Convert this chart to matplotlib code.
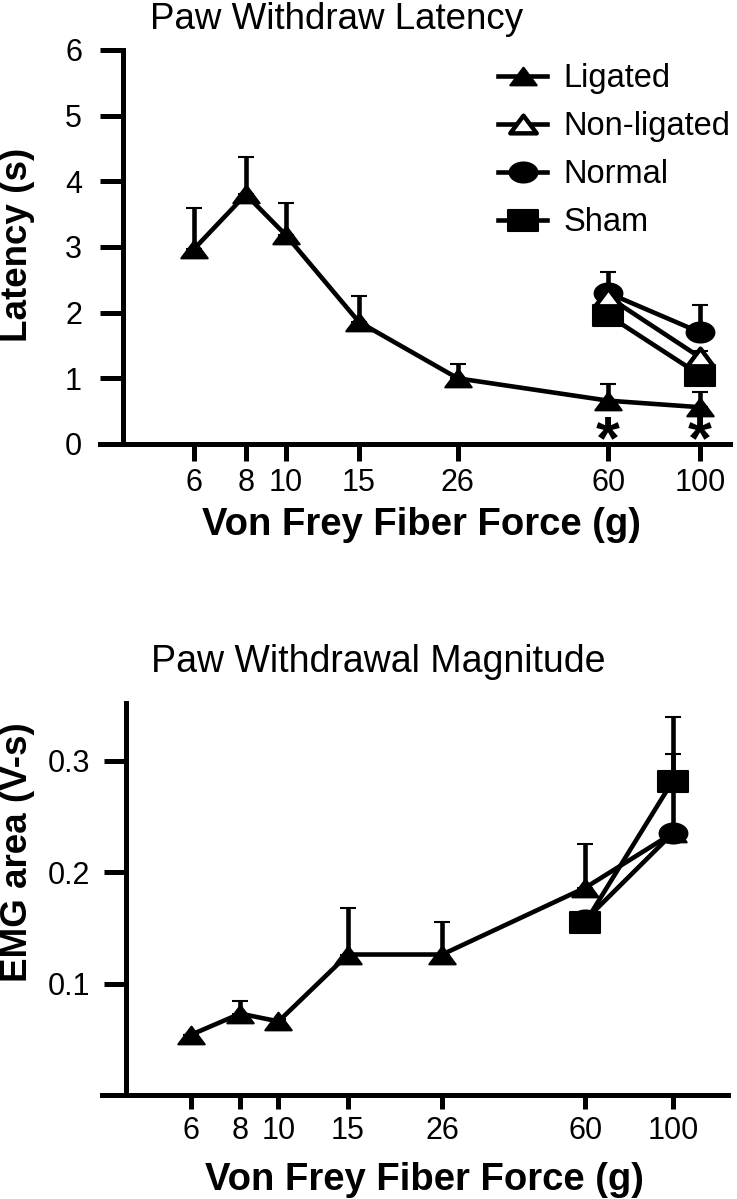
import numpy as np
import matplotlib.pyplot as plt
from matplotlib.path import Path

plt.rcParams['font.family'] = 'Liberation Sans'
plt.rcParams['mathtext.fontset'] = 'custom'
plt.rcParams['mathtext.rm'] = 'Liberation Sans:bold'

# von Frey fibers (g)
force = [6, 8, 10, 15, 26, 60, 100]
force_hi = [60, 100]
tick_labels = ['6', '8', '10', '15', '26', '60', '100']

# paw withdraw latency (s), upper error only
lat_ligated = [2.97, 3.8, 3.18, 1.86, 1.0, 0.66, 0.56]
lat_ligated_err = [0.62, 0.57, 0.49, 0.40, 0.22, 0.25, 0.23]
lat_nonlig = [2.24, 1.32]
lat_nonlig_err = [0.1, 0.1]
lat_normal = [2.30, 1.70]
lat_normal_err = [0.32, 0.41]
lat_sham = [1.96, 1.05]
lat_sham_err = [0.1, 0.1]
star_y = 0.04  # anchor of the significance marks (glyph sits above it)

# paw withdrawal magnitude, EMG area (V-s)
emg_ligated = [0.054, 0.073, 0.066, 0.126, 0.126, 0.186, 0.235]
emg_ligated_err = [0.0, 0.011, 0.002, 0.042, 0.029, 0.039, 0.0]
emg_normal = [0.157, 0.235]
emg_normal_err = [0.0, 0.071]
emg_sham = [0.155, 0.282]
emg_sham_err = [0.0, 0.057]

# markers look a bit wide in the original figure
tri = Path([(-1, -0.67), (1, -0.67), (0, 0.67), (-1, -0.67)], closed=True)
sq = Path([(-1, -0.72), (1, -0.72), (1, 0.72), (-1, 0.72), (-1, -0.72)], closed=True)
t = np.linspace(0, 2 * np.pi, 61)
ell = Path(np.column_stack([np.cos(t), 0.72 * np.sin(t)]), closed=True)

style = dict(color='black', lw=3.3, elinewidth=3.3, capsize=6, capthick=3.8,
             mec='black', mew=1.5, clip_on=False)


def series(ax, x, y, up, marker, ms, face='black', z=3):
    eb = ax.errorbar(x, y, yerr=[np.zeros(len(up)), up], marker=marker, ms=ms,
                     mfc=face, zorder=z, **style)
    if face == 'white':
        eb[0].set_markeredgewidth(3.2)
    return eb[0]


def setup(ax, xlim, yspine_x, ylim, yticks, ylabels, ylen, xlen, ypad, xpad):
    ax.set_xscale('log')
    ax.set_xlim(*xlim)
    ax.set_ylim(*ylim)
    ax.set_xticks(force)
    ax.set_xticklabels(tick_labels)
    ax.set_yticks(yticks)
    ax.set_yticklabels(ylabels)
    ax.minorticks_off()
    for s in ['top', 'right']:
        ax.spines[s].set_visible(False)
    ax.spines['left'].set_position(('data', yspine_x))
    for s in ['left', 'bottom']:
        ax.spines[s].set_linewidth(3.6)
    ax.tick_params(axis='y', direction='out', length=ylen, width=3.6,
                   labelsize=22, pad=ypad)
    ax.tick_params(axis='x', direction='out', length=xlen, width=3.6,
                   labelsize=22, pad=xpad)


fig = plt.figure(figsize=(7.37, 11.99), dpi=100)
W, H = 737, 1199

# ---- top panel ----
ax1 = fig.add_axes([100 / W, 1 - 444 / H, 630 / W, 394 / H])
setup(ax1, (3.557, 118.1), 4.044, (0, 6), range(7), [str(i) for i in range(7)],
      16.5, 12, 13, 5.5)
h_lig = series(ax1, force, lat_ligated, lat_ligated_err, tri, 19, z=3)
h_sham = series(ax1, force_hi, lat_sham, lat_sham_err, sq, 21, z=4)
h_norm = series(ax1, force_hi, lat_normal, lat_normal_err, ell, 20, z=5)
h_non = series(ax1, force_hi, lat_nonlig, lat_nonlig_err, tri, 19, face='white', z=6)

for xv in force_hi:
    ax1.text(xv, star_y, r'$\mathrm{*}$', ha='center', va='center', fontsize=44,
             clip_on=False)

ax1.legend([h_lig, h_non, h_norm, h_sham],
           ['Ligated', 'Non-ligated', 'Normal', 'Sham'],
           loc='upper left', bbox_to_anchor=(0.606, 1.008), frameon=False,
           fontsize=23.5, borderpad=0, handlelength=1.5, handletextpad=0.5,
           labelspacing=0.52, numpoints=1)

fig.text(337 / W, 1 - 29 / H, 'Paw Withdraw Latency', ha='center',
         va='baseline', fontsize=26.5)
fig.text(421 / W, 1 - 535 / H, 'Von Frey Fiber Force (g)', ha='center',
         va='baseline', fontsize=27.5, fontweight='bold')
fig.text(27 / W, 1 - 245 / H, 'Latency (s)', rotation=90, rotation_mode='anchor',
         ha='center', va='baseline', fontsize=26.5, fontweight='bold')

# ---- bottom panel ----
ax2 = fig.add_axes([102 / W, 1 - 1095 / H, 626 / W, 392 / H])
setup(ax2, (3.569, 137.9), 4.107, (0, 0.3516), [0.1, 0.2, 0.3],
      ['0.1', '0.2', '0.3'], 16, 10, 10, 5)
series(ax2, force, emg_ligated, emg_ligated_err, tri, 19, z=3)
series(ax2, force_hi, emg_normal, emg_normal_err, ell, 20, z=4)
series(ax2, force_hi, emg_sham, emg_sham_err, sq, 21, z=5)

fig.text(378 / W, 1 - 672 / H, 'Paw Withdrawal Magnitude', ha='center',
         va='baseline', fontsize=27)
fig.text(424 / W, 1 - 1190 / H, 'Von Frey Fiber Force (g)', ha='center',
         va='baseline', fontsize=27.5, fontweight='bold')
fig.text(27 / W, 1 - 852 / H, 'EMG area (V-s)', rotation=90, rotation_mode='anchor',
         ha='center', va='baseline', fontsize=26.5, fontweight='bold')

fig.savefig('out.png', dpi=100)
